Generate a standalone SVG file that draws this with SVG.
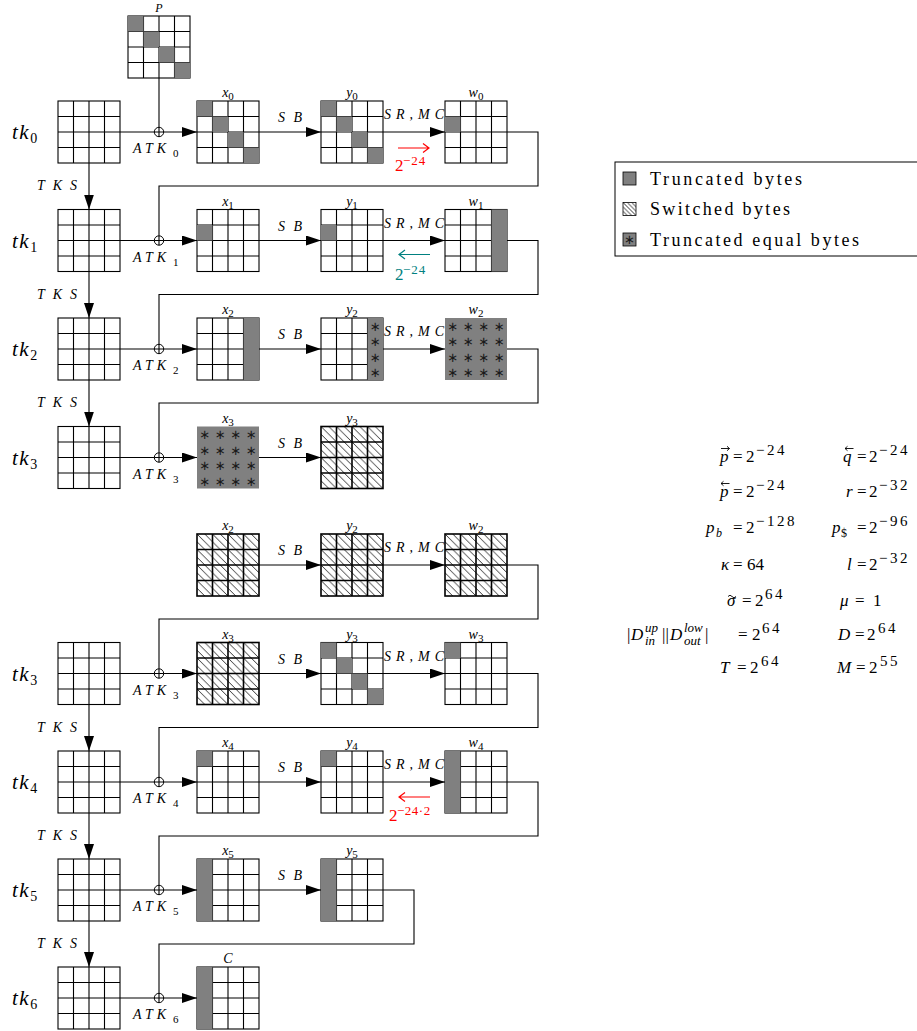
<svg xmlns="http://www.w3.org/2000/svg" width="917" height="1031" viewBox="0 0 917 1031">
<style>
.bg{fill:#fff}
.ln{stroke:#000;stroke-width:1.1;fill:none}
.lb{stroke:#000;stroke-width:1.6;fill:none}
.g{fill:#808080}
.h{fill:url(#hatch)}
.cn{stroke:#000;stroke-width:1.1;fill:none}
.ar{marker-end:url(#ah)}
.ox{stroke:#000;stroke-width:1;fill:#fff}
.st{font-family:"DejaVu Sans",sans-serif;font-size:13px;text-anchor:middle;fill:#1a1a1a}
.m{font-family:"Liberation Serif","DejaVu Serif","Noto Serif","Times New Roman",serif;font-style:italic;fill:#000}
.n{font-style:normal}
.lbl{font-size:14px;text-anchor:middle}
.tk{font-size:21px}
.op{font-size:14px}
.f{font-family:"Liberation Serif","DejaVu Serif","Noto Serif","Times New Roman",serif;font-size:17px;fill:#000}
.i{font-style:italic}
.sp{font-size:15px;letter-spacing:2.5px}
.acc{stroke:#000;stroke-width:0.9;fill:none}
.lg{font-family:"Liberation Serif","DejaVu Serif","Noto Serif","Times New Roman",serif;font-size:18px;fill:#000}
.red{fill:#ff0000}
.teal{fill:#008080}
.rs{stroke:#ff0000;stroke-width:1.2;fill:none}
.ts{stroke:#008080;stroke-width:1.2;fill:none}
</style>
<defs>
<marker id="ah" markerUnits="userSpaceOnUse" markerWidth="15" markerHeight="10" refX="15" refY="5" orient="auto"><path d="M0,0 L15,5 L0,10 Z" fill="#000"/></marker>
<pattern id="hatch" patternUnits="objectBoundingBox" x="0" y="0" width="0.25" height="0.25" patternContentUnits="userSpaceOnUse"><path d="M-1,-1L16.5,16.5M6.75,-1L16.5,8.75M-1,6.75L8.75,16.5" stroke="#000" stroke-width="0.8" fill="none"/></pattern>
<pattern id="hatch2" patternUnits="objectBoundingBox" x="0" y="0" width="1" height="1" patternContentUnits="userSpaceOnUse"><path d="M0,0L13,13M4.33,0L13,8.67M0,4.33L8.67,13M8.67,0L13,4.33M0,8.67L4.33,13" stroke="#000" stroke-width="0.8" fill="none"/></pattern>
<g id="gl"><rect width="62" height="62"/><path d="M15.5,0V62M31,0V62M46.5,0V62M0,15.5H62M0,31H62M0,46.5H62"/></g>
</defs>
<rect width="917" height="1031" fill="#fff"/>

<!-- connectors -->
<g id="connectors" class="cn">
<path d="M159,78V127.3"/>
<path class="ar" d="M120,132H197"/><path class="ar" d="M259,132H321"/><path class="ar" d="M383,132H445"/>
<path d="M507,132H538V186H159V235.8"/><path class="ar" d="M89,163V209.5"/>
<path class="ar" d="M120,240.5H197"/><path class="ar" d="M259,240.5H321"/><path class="ar" d="M383,240.5H445"/>
<path d="M507,240.5H538V294.5H159V344.3"/><path class="ar" d="M89,271.5V318"/>
<path class="ar" d="M120,349H197"/><path class="ar" d="M259,349H321"/><path class="ar" d="M383,349H445"/>
<path d="M507,349H538V403H159V452.8"/><path class="ar" d="M89,380V426.5"/>
<path class="ar" d="M120,457.5H197"/><path class="ar" d="M259,457.5H321"/>
<path class="ar" d="M259,565H321"/><path class="ar" d="M383,565H445"/>
<path d="M507,565H538V619H159V668.8"/>
<path class="ar" d="M120,673.5H197"/><path class="ar" d="M259,673.5H321"/><path class="ar" d="M383,673.5H445"/>
<path d="M507,673.5H538V727.5H159V777.3"/><path class="ar" d="M89,704.5V751"/>
<path class="ar" d="M120,782H197"/><path class="ar" d="M259,782H321"/><path class="ar" d="M383,782H445"/>
<path d="M507,782H538V836H159V885.3"/><path class="ar" d="M89,813V859"/>
<path class="ar" d="M120,890H197"/><path class="ar" d="M259,890H321"/>
<path d="M383,890H414V944H159V993.3"/><path class="ar" d="M89,921V967"/>
<path class="ar" d="M120,998H197"/>
<g id="oplus">
<circle class="ox" cx="159" cy="132" r="4.7"/><path d="M154.3,132H163.7M159,127.3V136.7"/>
<circle class="ox" cx="159" cy="240.5" r="4.7"/><path d="M154.3,240.5H163.7M159,235.8V245.2"/>
<circle class="ox" cx="159" cy="349" r="4.7"/><path d="M154.3,349H163.7M159,344.3V353.7"/>
<circle class="ox" cx="159" cy="457.5" r="4.7"/><path d="M154.3,457.5H163.7M159,452.8V462.2"/>
<circle class="ox" cx="159" cy="673.5" r="4.7"/><path d="M154.3,673.5H163.7M159,668.8V678.2"/>
<circle class="ox" cx="159" cy="782" r="4.7"/><path d="M154.3,782H163.7M159,777.3V786.7"/>
<circle class="ox" cx="159" cy="890" r="4.7"/><path d="M154.3,890H163.7M159,885.3V894.7"/>
<circle class="ox" cx="159" cy="998" r="4.7"/><path d="M154.3,998H163.7M159,993.3V1002.7"/>
</g>
</g>

<!-- operation labels -->
<g id="oplabels" class="m op">
<text x="278" y="122" textLength="24" lengthAdjust="spacing">SB</text>
<text x="278" y="230.5" textLength="24" lengthAdjust="spacing">SB</text>
<text x="278" y="339" textLength="24" lengthAdjust="spacing">SB</text>
<text x="278" y="447.5" textLength="24" lengthAdjust="spacing">SB</text>
<text x="278" y="555" textLength="24" lengthAdjust="spacing">SB</text>
<text x="278" y="663.5" textLength="24" lengthAdjust="spacing">SB</text>
<text x="278" y="772" textLength="24" lengthAdjust="spacing">SB</text>
<text x="278" y="880" textLength="24" lengthAdjust="spacing">SB</text>
<text x="384" y="119" textLength="60" lengthAdjust="spacing">SR,MC</text>
<text x="384" y="227.5" textLength="60" lengthAdjust="spacing">SR,MC</text>
<text x="384" y="336" textLength="60" lengthAdjust="spacing">SR,MC</text>
<text x="384" y="552" textLength="60" lengthAdjust="spacing">SR,MC</text>
<text x="384" y="660.5" textLength="60" lengthAdjust="spacing">SR,MC</text>
<text x="384" y="769" textLength="60" lengthAdjust="spacing">SR,MC</text>
<text x="37" y="190" textLength="40" lengthAdjust="spacing">TKS</text>
<text x="37" y="298.5" textLength="40" lengthAdjust="spacing">TKS</text>
<text x="37" y="407" textLength="40" lengthAdjust="spacing">TKS</text>
<text x="37" y="731.5" textLength="40" lengthAdjust="spacing">TKS</text>
<text x="37" y="840" textLength="40" lengthAdjust="spacing">TKS</text>
<text x="37" y="948" textLength="40" lengthAdjust="spacing">TKS</text>
<text x="133" y="153" letter-spacing="4">ATK<tspan class="n" x="173" y="157" font-size="11" letter-spacing="0">0</tspan></text>
<text x="133" y="261.5" letter-spacing="4">ATK<tspan class="n" x="173" y="265.5" font-size="11" letter-spacing="0">1</tspan></text>
<text x="133" y="370" letter-spacing="4">ATK<tspan class="n" x="173" y="374" font-size="11" letter-spacing="0">2</tspan></text>
<text x="133" y="478.5" letter-spacing="4">ATK<tspan class="n" x="173" y="482.5" font-size="11" letter-spacing="0">3</tspan></text>
<text x="133" y="694.5" letter-spacing="4">ATK<tspan class="n" x="173" y="698.5" font-size="11" letter-spacing="0">3</tspan></text>
<text x="133" y="803" letter-spacing="4">ATK<tspan class="n" x="173" y="807" font-size="11" letter-spacing="0">4</tspan></text>
<text x="133" y="911" letter-spacing="4">ATK<tspan class="n" x="173" y="915" font-size="11" letter-spacing="0">5</tspan></text>
<text x="133" y="1019" letter-spacing="4">ATK<tspan class="n" x="173" y="1023" font-size="11" letter-spacing="0">6</tspan></text>
</g>

<!-- probability arrows -->
<g id="prob">
<path class="rs" d="M398,148H429M423,143.5L429,148L423,152.5"/>
<text class="f red" font-size="14"><tspan x="395" y="171">2</tspan><tspan x="403" y="165" font-size="13" letter-spacing="1">−24</tspan></text>
<path class="ts" d="M399,254.5H430M405,250L399,254.5L405,259"/>
<text class="f teal" font-size="14"><tspan x="395" y="279.5">2</tspan><tspan x="403" y="273.5" font-size="13" letter-spacing="1">−24</tspan></text>
<path class="rs" d="M399,797H430M405,792.5L399,797L405,801.5"/>
<text class="f red" font-size="14"><tspan x="389" y="821">2</tspan><tspan x="397" y="815" font-size="13" letter-spacing="0.5">−24·2</tspan></text>
</g>

<!-- tk labels -->
<g id="tklabels" class="m tk">
<text x="12" y="139" letter-spacing="1.5">tk<tspan class="n" font-size="14" dy="4" letter-spacing="0">0</tspan></text>
<text x="12" y="247.5" letter-spacing="1.5">tk<tspan class="n" font-size="14" dy="4" letter-spacing="0">1</tspan></text>
<text x="12" y="356" letter-spacing="1.5">tk<tspan class="n" font-size="14" dy="4" letter-spacing="0">2</tspan></text>
<text x="12" y="464.5" letter-spacing="1.5">tk<tspan class="n" font-size="14" dy="4" letter-spacing="0">3</tspan></text>
<text x="12" y="680.5" letter-spacing="1.5">tk<tspan class="n" font-size="14" dy="4" letter-spacing="0">3</tspan></text>
<text x="12" y="789" letter-spacing="1.5">tk<tspan class="n" font-size="14" dy="4" letter-spacing="0">4</tspan></text>
<text x="12" y="897" letter-spacing="1.5">tk<tspan class="n" font-size="14" dy="4" letter-spacing="0">5</tspan></text>
<text x="12" y="1005" letter-spacing="1.5">tk<tspan class="n" font-size="14" dy="4" letter-spacing="0">6</tspan></text>
</g>

<!-- row 0 -->
<g id="P"><rect class="bg" x="128" y="16" width="62" height="62"/><use href="#gl" class="ln" x="128" y="16"/>
<rect class="g" x="128" y="16" width="15.5" height="15.5"/><rect class="g" x="143.5" y="31.5" width="15.5" height="15.5"/><rect class="g" x="159" y="47" width="15.5" height="15.5"/><rect class="g" x="174.5" y="62.5" width="15.5" height="15.5"/>
<text class="m" x="159" y="12" font-size="12" text-anchor="middle">P</text></g>
<g id="tk0"><rect class="bg" x="58" y="101" width="62" height="62"/><use href="#gl" class="ln" x="58" y="101"/></g>
<g id="x0"><rect class="bg" x="197" y="101" width="62" height="62"/><use href="#gl" class="ln" x="197" y="101"/>
<rect class="g" x="197" y="101" width="15.5" height="15.5"/><rect class="g" x="212.5" y="116.5" width="15.5" height="15.5"/><rect class="g" x="228" y="132" width="15.5" height="15.5"/><rect class="g" x="243.5" y="147.5" width="15.5" height="15.5"/>
<text class="m lbl" x="228" y="97">x<tspan class="n" font-size="11" dy="3">0</tspan></text></g>
<g id="y0"><rect class="bg" x="321" y="101" width="62" height="62"/><use href="#gl" class="ln" x="321" y="101"/>
<rect class="g" x="321" y="101" width="15.5" height="15.5"/><rect class="g" x="336.5" y="116.5" width="15.5" height="15.5"/><rect class="g" x="352" y="132" width="15.5" height="15.5"/><rect class="g" x="367.5" y="147.5" width="15.5" height="15.5"/>
<text class="m lbl" x="352" y="97">y<tspan class="n" font-size="11" dy="3">0</tspan></text></g>
<g id="w0"><rect class="bg" x="445" y="101" width="62" height="62"/><use href="#gl" class="ln" x="445" y="101"/>
<rect class="g" x="445" y="116.5" width="15.5" height="15.5"/>
<text class="m lbl" x="476" y="97">w<tspan class="n" font-size="11" dy="3">0</tspan></text></g>

<!-- row 1 -->
<g id="tk1"><rect class="bg" x="58" y="209.5" width="62" height="62"/><use href="#gl" class="ln" x="58" y="209.5"/></g>
<g id="x1"><rect class="bg" x="197" y="209.5" width="62" height="62"/><use href="#gl" class="ln" x="197" y="209.5"/>
<rect class="g" x="197" y="225" width="15.5" height="15.5"/>
<text class="m lbl" x="228" y="205.5">x<tspan class="n" font-size="11" dy="3">1</tspan></text></g>
<g id="y1"><rect class="bg" x="321" y="209.5" width="62" height="62"/><use href="#gl" class="ln" x="321" y="209.5"/>
<rect class="g" x="321" y="225" width="15.5" height="15.5"/>
<text class="m lbl" x="352" y="205.5">y<tspan class="n" font-size="11" dy="3">1</tspan></text></g>
<g id="w1"><rect class="bg" x="445" y="209.5" width="62" height="62"/><use href="#gl" class="ln" x="445" y="209.5"/>
<rect class="g" x="491.5" y="209.5" width="15.5" height="62"/>
<text class="m lbl" x="476" y="205.5">w<tspan class="n" font-size="11" dy="3">1</tspan></text></g>

<!-- row 2 -->
<g id="tk2"><rect class="bg" x="58" y="318" width="62" height="62"/><use href="#gl" class="ln" x="58" y="318"/></g>
<g id="x2"><rect class="bg" x="197" y="318" width="62" height="62"/><use href="#gl" class="ln" x="197" y="318"/>
<rect class="g" x="243.5" y="318" width="15.5" height="62"/>
<text class="m lbl" x="228" y="314">x<tspan class="n" font-size="11" dy="3">2</tspan></text></g>
<g id="y2"><rect class="bg" x="321" y="318" width="62" height="62"/><use href="#gl" class="ln" x="321" y="318"/>
<rect class="g" x="367.5" y="318" width="15.5" height="62"/>
<text class="st" x="375.25" y="330.5">∗</text><text class="st" x="375.25" y="346">∗</text><text class="st" x="375.25" y="361.5">∗</text><text class="st" x="375.25" y="377">∗</text>
<text class="m lbl" x="352" y="314">y<tspan class="n" font-size="11" dy="3">2</tspan></text></g>
<g id="w2"><rect class="g" x="445" y="318" width="62" height="62"/>
<text class="st" x="452.75 468.25 483.75 499.25" y="330.5">∗∗∗∗</text>
<text class="st" x="452.75 468.25 483.75 499.25" y="346">∗∗∗∗</text>
<text class="st" x="452.75 468.25 483.75 499.25" y="361.5">∗∗∗∗</text>
<text class="st" x="452.75 468.25 483.75 499.25" y="377">∗∗∗∗</text>
<text class="m lbl" x="476" y="314">w<tspan class="n" font-size="11" dy="3">2</tspan></text></g>

<!-- row 3 -->
<g id="tk3"><rect class="bg" x="58" y="426.5" width="62" height="62"/><use href="#gl" class="ln" x="58" y="426.5"/></g>
<g id="x3"><rect class="g" x="197" y="426.5" width="62" height="62"/>
<text class="st" x="204.75 220.25 235.75 251.25" y="439">∗∗∗∗</text>
<text class="st" x="204.75 220.25 235.75 251.25" y="454.5">∗∗∗∗</text>
<text class="st" x="204.75 220.25 235.75 251.25" y="470">∗∗∗∗</text>
<text class="st" x="204.75 220.25 235.75 251.25" y="485.5">∗∗∗∗</text>
<text class="m lbl" x="228" y="422.5">x<tspan class="n" font-size="11" dy="3">3</tspan></text></g>
<g id="y3"><rect class="bg" x="321" y="426.5" width="62" height="62"/><rect class="h" x="321" y="426.5" width="62" height="62"/><use href="#gl" class="lb" x="321" y="426.5"/>
<text class="m lbl" x="352" y="422.5">y<tspan class="n" font-size="11" dy="3">3</tspan></text></g>

<!-- row 4 (second part) -->
<g id="x2b"><rect class="bg" x="197" y="534" width="62" height="62"/><rect class="h" x="197" y="534" width="62" height="62"/><use href="#gl" class="lb" x="197" y="534"/>
<text class="m lbl" x="228" y="530">x<tspan class="n" font-size="11" dy="3">2</tspan></text></g>
<g id="y2b"><rect class="bg" x="321" y="534" width="62" height="62"/><rect class="h" x="321" y="534" width="62" height="62"/><use href="#gl" class="lb" x="321" y="534"/>
<text class="m lbl" x="352" y="530">y<tspan class="n" font-size="11" dy="3">2</tspan></text></g>
<g id="w2b"><rect class="bg" x="445" y="534" width="62" height="62"/><rect class="h" x="445" y="534" width="62" height="62"/><use href="#gl" class="lb" x="445" y="534"/>
<text class="m lbl" x="476" y="530">w<tspan class="n" font-size="11" dy="3">2</tspan></text></g>

<!-- row 5 -->
<g id="tk3b"><rect class="bg" x="58" y="642.5" width="62" height="62"/><use href="#gl" class="ln" x="58" y="642.5"/></g>
<g id="x3b"><rect class="bg" x="197" y="642.5" width="62" height="62"/><rect class="h" x="197" y="642.5" width="62" height="62"/><use href="#gl" class="lb" x="197" y="642.5"/>
<text class="m lbl" x="228" y="638.5">x<tspan class="n" font-size="11" dy="3">3</tspan></text></g>
<g id="y3b"><rect class="bg" x="321" y="642.5" width="62" height="62"/><use href="#gl" class="ln" x="321" y="642.5"/>
<rect class="g" x="321" y="642.5" width="15.5" height="15.5"/><rect class="g" x="336.5" y="658" width="15.5" height="15.5"/><rect class="g" x="352" y="673.5" width="15.5" height="15.5"/><rect class="g" x="367.5" y="689" width="15.5" height="15.5"/>
<text class="m lbl" x="352" y="638.5">y<tspan class="n" font-size="11" dy="3">3</tspan></text></g>
<g id="w3"><rect class="bg" x="445" y="642.5" width="62" height="62"/><use href="#gl" class="ln" x="445" y="642.5"/>
<rect class="g" x="445" y="642.5" width="15.5" height="15.5"/>
<text class="m lbl" x="476" y="638.5">w<tspan class="n" font-size="11" dy="3">3</tspan></text></g>

<!-- row 6 -->
<g id="tk4"><rect class="bg" x="58" y="751" width="62" height="62"/><use href="#gl" class="ln" x="58" y="751"/></g>
<g id="x4"><rect class="bg" x="197" y="751" width="62" height="62"/><use href="#gl" class="ln" x="197" y="751"/>
<rect class="g" x="197" y="751" width="15.5" height="15.5"/>
<text class="m lbl" x="228" y="747">x<tspan class="n" font-size="11" dy="3">4</tspan></text></g>
<g id="y4"><rect class="bg" x="321" y="751" width="62" height="62"/><use href="#gl" class="ln" x="321" y="751"/>
<rect class="g" x="321" y="751" width="15.5" height="15.5"/>
<text class="m lbl" x="352" y="747">y<tspan class="n" font-size="11" dy="3">4</tspan></text></g>
<g id="w4"><rect class="bg" x="445" y="751" width="62" height="62"/><use href="#gl" class="ln" x="445" y="751"/>
<rect class="g" x="445" y="751" width="15.5" height="62"/>
<text class="m lbl" x="476" y="747">w<tspan class="n" font-size="11" dy="3">4</tspan></text></g>

<!-- row 7 -->
<g id="tk5"><rect class="bg" x="58" y="859" width="62" height="62"/><use href="#gl" class="ln" x="58" y="859"/></g>
<g id="x5"><rect class="bg" x="197" y="859" width="62" height="62"/><use href="#gl" class="ln" x="197" y="859"/>
<rect class="g" x="197" y="859" width="15.5" height="62"/>
<text class="m lbl" x="228" y="855">x<tspan class="n" font-size="11" dy="3">5</tspan></text></g>
<g id="y5"><rect class="bg" x="321" y="859" width="62" height="62"/><use href="#gl" class="ln" x="321" y="859"/>
<rect class="g" x="321" y="859" width="15.5" height="62"/>
<text class="m lbl" x="352" y="855">y<tspan class="n" font-size="11" dy="3">5</tspan></text></g>

<!-- row 8 -->
<g id="tk6"><rect class="bg" x="58" y="967" width="62" height="62"/><use href="#gl" class="ln" x="58" y="967"/></g>
<g id="C"><rect class="bg" x="197" y="967" width="62" height="62"/><use href="#gl" class="ln" x="197" y="967"/>
<rect class="g" x="197" y="967" width="15.5" height="62"/>
<text class="m lbl" x="228" y="963" font-size="13">C</text></g>

<!-- legend -->
<g id="legend">
<rect x="615" y="162" width="310" height="94" fill="#fff" stroke="#000" stroke-width="1"/>
<rect x="623" y="172" width="13" height="13" fill="#808080" stroke="#000" stroke-width="0.8"/>
<text class="lg" x="650" y="184.5" textLength="152" lengthAdjust="spacing">Truncated bytes</text>
<rect x="623" y="202.5" width="13" height="13" fill="url(#hatch2)" stroke="#000" stroke-width="0.8"/>
<text class="lg" x="650" y="215" textLength="140" lengthAdjust="spacing">Switched bytes</text>
<rect x="623" y="233" width="13" height="13" fill="#808080" stroke="#000" stroke-width="0.8"/>
<text class="st" x="629.5" y="243.5" font-size="11">∗</text>
<text class="lg" x="650" y="245.5" textLength="209" lengthAdjust="spacing">Truncated equal bytes</text>
</g>

<!-- parameters -->
<g id="params" class="f">
<path class="acc" d="M721,448.5H729.5M727,446.3L729.5,448.5L727,450.7"/>
<text><tspan class="i" x="720" y="462">p</tspan><tspan x="733" y="462">=</tspan><tspan x="746" y="462">2</tspan><tspan class="sp" x="756" y="455">−24</tspan></text>
<path class="acc" d="M845,448.5H853.5M847.5,446.3L845,448.5L847.5,450.7"/>
<text><tspan class="i" x="843" y="462">q</tspan><tspan x="857" y="462">=</tspan><tspan x="869" y="462">2</tspan><tspan class="sp" x="879" y="455">−24</tspan></text>
<path class="acc" d="M721,483.5H729.5M723.5,481.3L721,483.5L723.5,485.7"/>
<text><tspan class="i" x="720" y="497">p</tspan><tspan x="733" y="497">=</tspan><tspan x="746" y="497">2</tspan><tspan class="sp" x="756" y="490">−24</tspan></text>
<text><tspan class="i" x="846" y="497">r</tspan><tspan x="857" y="497">=</tspan><tspan x="869" y="497">2</tspan><tspan class="sp" x="879" y="490">−32</tspan></text>
<text><tspan class="i" x="706" y="533">p</tspan><tspan class="i" x="716" y="537" font-size="12">b</tspan><tspan x="733" y="533">=</tspan><tspan x="746" y="533">2</tspan><tspan class="sp" x="756" y="526">−128</tspan></text>
<text><tspan class="i" x="832" y="533">p</tspan><tspan x="841" y="537" font-size="12">$</tspan><tspan x="857" y="533">=</tspan><tspan x="869" y="533">2</tspan><tspan class="sp" x="879" y="526">−96</tspan></text>
<text><tspan class="i" x="721" y="570">κ</tspan><tspan x="733" y="570">=</tspan><tspan x="747" y="570">64</tspan></text>
<text><tspan class="i" x="847" y="570">l</tspan><tspan x="857" y="570">=</tspan><tspan x="869" y="570">2</tspan><tspan class="sp" x="879" y="563">−32</tspan></text>
<path class="acc" d="M728,596.5q2,-2.6 4,0t4,0"/>
<text><tspan class="i" x="727" y="606">σ</tspan><tspan x="742" y="606">=</tspan><tspan x="755" y="606">2</tspan><tspan class="sp" x="765" y="599">64</tspan></text>
<text><tspan class="i" x="840" y="606">μ</tspan><tspan x="855" y="606">=</tspan><tspan x="873" y="606">1</tspan></text>
<text><tspan x="627" y="640">|</tspan><tspan class="i" x="631" y="640">D</tspan><tspan class="i" x="645" y="632" font-size="13">up</tspan><tspan class="i" x="645" y="645" font-size="13">in</tspan><tspan x="662" y="640">||</tspan><tspan class="i" x="670" y="640">D</tspan><tspan class="i" x="684" y="632" font-size="13">low</tspan><tspan class="i" x="684" y="645" font-size="13">out</tspan><tspan x="705" y="640">|</tspan><tspan x="738" y="640">=</tspan><tspan x="752" y="640">2</tspan><tspan class="sp" x="762" y="633">64</tspan></text>
<text><tspan class="i" x="838" y="640">D</tspan><tspan x="855" y="640">=</tspan><tspan x="867" y="640">2</tspan><tspan class="sp" x="878" y="633">64</tspan></text>
<text><tspan class="i" x="720" y="673">T</tspan><tspan x="737" y="673">=</tspan><tspan x="750" y="673">2</tspan><tspan class="sp" x="761" y="666">64</tspan></text>
<text><tspan class="i" x="837" y="673">M</tspan><tspan x="856" y="673">=</tspan><tspan x="869" y="673">2</tspan><tspan class="sp" x="880" y="666">55</tspan></text>
</g>
</svg>
